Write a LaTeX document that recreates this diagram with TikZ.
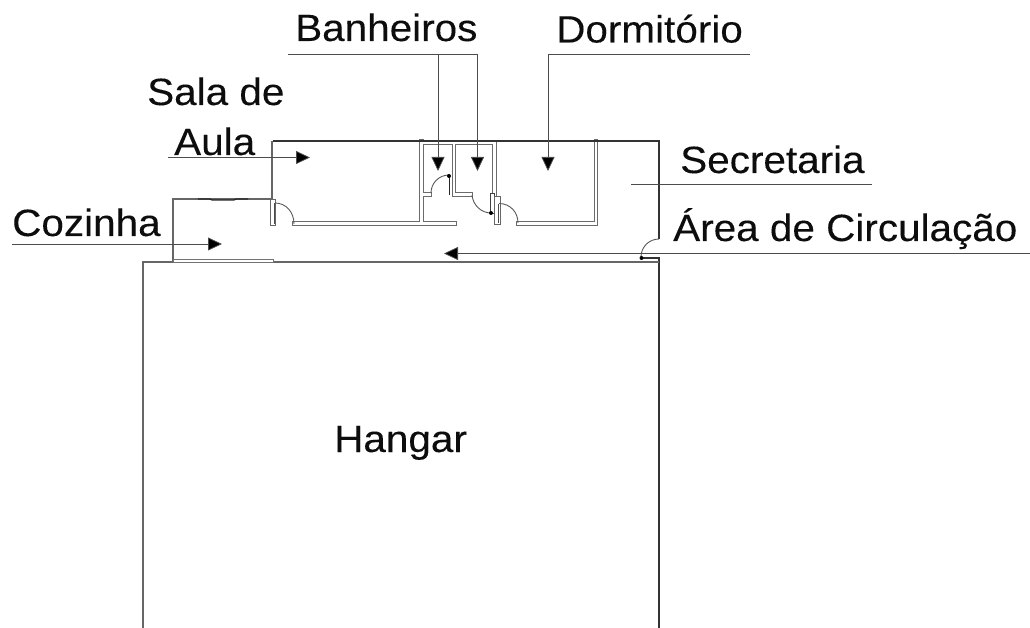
\documentclass[tikz,border=0pt]{standalone}
\usepackage{fontspec}
\setmainfont[FakeStretch=1.065,FakeBold=0.15]{Liberation Sans}
\usetikzlibrary{arrows.meta}
\definecolor{wallc}{gray}{0.42}
\tikzset{
 solid line/.style={draw=black!80,line width=1.3pt},
 grey line/.style={draw=black!60,line width=1.1pt},
 doorarc/.style={draw=black!65,line width=0.9pt},
 leader/.style={draw=black!70,line width=0.8pt},
 pointer/.style={leader,-{Triangle[length=14pt,width=13pt,fill=black]}},
 lab/.style={font=\fontsize{38}{40}\selectfont,inner sep=0pt,anchor=base west,text=black!95},
 hinge/.style={circle,fill=black,inner sep=0pt,minimum size=4pt},
}
\newcommand{\wallpaths}{%
  (294,223.5) -- (421.5,223.5) -- (421.5,141)
  (421.5,223.5) -- (455,223.5)
  (421.5,142.5) -- (494.5,142.5)
  (423,194.5) -- (430,194.5)
  (454,142.5) -- (454,194.5) -- (471,194.5)
  (494.5,142.5) -- (494.5,196)
  (518,223.5) -- (595.7,223.5) -- (595.7,141)
}
\begin{document}
\begin{tikzpicture}[x=1pt,y=-1pt]
\useasboundingbox (0,0) rectangle (1030,628);
% labels
\node[lab] (ban) at (295,41) {Banheiros};
\node[lab] (dor) at (556,42.5) {Dormitório};
\node[lab] (sal) at (147,105) {Sala de};
\node[lab] (aul) at (174,155) {Aula};
\node[lab] (coz) at (12,236) {Cozinha};
\node[lab] (sec) at (680,173) {Secretaria};
\node[lab] (are) at (673,241) {Área de Circulação};
\node[lab] (han) at (334,452) {Hangar};
% outer walls
\coordinate (tl) at (273,141);
\coordinate (tr) at (659,141);
\coordinate (rd) at (659,239);
\coordinate (rj) at (641,258);
\coordinate (rk) at (659,258);
\coordinate (hbr) at (659,628);
\coordinate (hl) at (143,262);
\coordinate (hbl) at (143,628);
% walls: grey pass, then white core
\draw[wallc,line width=4.2pt,line cap=rect,line join=miter] \wallpaths;
\draw[white,line width=2.2pt,line cap=rect,line join=miter] \wallpaths;
\draw[solid line] (tl) -- (tr) -- (rd);
\draw[solid line] (rj) -- (rk) -- (hbr);
\draw[grey line,line width=1.6pt] (hl) -- (hbl);
\draw[grey line,line width=2.8pt] (142.3,262) -- (rk |- 0,262);
% kitchen
\draw[grey line] (173,262) -- (173,199) -- (272,199);
\draw[black!85,line width=1.2pt] (198,199) -- (210,199) -- (212,200) -- (234,200) -- (236,199) -- (248,199);
\draw[fill=white,draw=black!55,line width=0.7pt] (173,259.2) rectangle (273,262.6);
\draw[grey line,line width=1.9pt] (272,141) -- (272,199);
% sala door
\draw[fill=white,draw=black!60,line width=0.9pt] (270,199) rectangle (275.5,225);
\draw[black!70,line width=1pt] (274,203) -- (274,224);
\draw[doorarc] (275,203) .. controls (286,203) and (294,212) .. (294,224);
% bath doors
\draw[black!85,line width=1.4pt] (449.5,176) -- (449.5,195);
\draw[doorarc] (449,175) .. controls (439,175) and (431,183) .. (431,193);
\node[hinge] (d1) at (449,176) {};
\draw[fill=white,draw=black!75,line width=0.9pt] (490,193) rectangle (494,213);
\draw[doorarc] (472,195) .. controls (473,205) and (481,213) .. (491,213);
\node[hinge] (d2) at (491,213) {};
% dorm door
\draw[fill=white,draw=black!60,line width=0.9pt] (494,196.5) rectangle (500,224.5);
\draw[black!70,line width=1pt] (498.5,204) -- (498.5,223);
\draw[doorarc] (499,203.5) .. controls (510,203.5) and (518,212) .. (518,223);
% exit door
\draw[doorarc] (659,239) .. controls (649,239) and (641,247) .. (641,257);
\node[hinge] (d3) at (641.5,258) {};
% leaders
\coordinate (a1) at (288,54);
\coordinate (a2) at (477.5,54);
\coordinate (a3) at (438,54);
\coordinate (b1) at (548,54);
\coordinate (b2) at (750,54);
\draw[leader] (a1) -- (a2);
\draw[leader] (b1) -- (b2);
\draw[pointer] (a3) -- (438,171);
\draw[pointer] (a2) -- (477.5,171);
\draw[pointer] (b1) -- (548,171);
\draw[pointer] (168,157.5) -- (310,157.5);
\draw[pointer] (12,244) -- (222,244);
\draw[leader] (631,184) -- (872,184);
\draw[pointer] (1030,253.5) -- (444,253.5);
\end{tikzpicture}
\end{document}
